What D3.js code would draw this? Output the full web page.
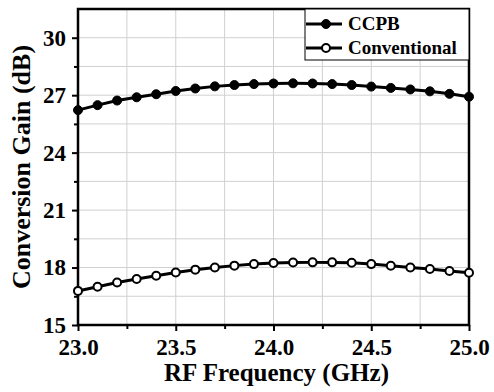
<!DOCTYPE html>
<html>
<head>
<meta charset="utf-8">
<script src="https://cdn.jsdelivr.net/npm/d3@7"></script>
<style>
  body { margin: 0; background: #fff; }
</style>
</head>
<body>
<div id="chart"></div>
<script>
const freq = [23.0, 23.1, 23.2, 23.3, 23.4, 23.5, 23.6, 23.7, 23.8, 23.9, 24.0,
  24.1, 24.2, 24.3, 24.4, 24.5, 24.6, 24.7, 24.8, 24.9, 25.0]
const ccpb = [26.22, 26.48, 26.72, 26.89, 27.05, 27.22, 27.35, 27.46, 27.53, 27.58, 27.61,
  27.62, 27.61, 27.58, 27.53, 27.45, 27.38, 27.3, 27.2, 27.07, 26.92]
const conventional = [16.78, 17.0, 17.22, 17.4, 17.57, 17.74, 17.89, 18.0, 18.1, 18.18, 18.24,
  18.26, 18.27, 18.27, 18.25, 18.18, 18.09, 18.0, 17.92, 17.82, 17.73]
const xTicks = [23.0, 23.5, 24.0, 24.5, 25.0]
const xMinor = [23.25, 23.75, 24.25, 24.75]
const yTicks = [15, 18, 21, 24, 27, 30]
const yMinor = [16.5, 19.5, 22.5, 25.5, 28.5]
const seriesNames = ['CCPB', 'Conventional']

const font = "'Liberation Serif', 'Times New Roman', serif"

const margin = { top: 9, left: 78, right: 25, bottom: 67 }
const width = 494 - margin.left - margin.right
const height = 392 - margin.top - margin.bottom

const svg = d3
  .select('#chart')
  .append('svg')
  .attr('width', 494)
  .attr('height', 392)
  .append('g')
  .attr('transform', 'translate(' + margin.left + ',' + margin.top + ')')

const xScale = d3.scaleLinear().domain([23, 25]).range([0, width])
const yScale = d3.scaleLinear().domain([15, 31.5]).range([height, 0])

// grid
svg
  .selectAll('.vgrid')
  .data(xMinor.concat(xTicks.slice(1, -1)))
  .enter()
  .append('line')
  .attr('x1', d => xScale(d))
  .attr('x2', d => xScale(d))
  .attr('y1', 0)
  .attr('y2', height)
  .attr('stroke', '#d0d0d0')
  .attr('stroke-width', 1)

svg
  .selectAll('.hgrid')
  .data(yMinor.concat(yTicks.slice(1)))
  .enter()
  .append('line')
  .attr('x1', 0)
  .attr('x2', width)
  .attr('y1', d => yScale(d))
  .attr('y2', d => yScale(d))
  .attr('stroke', '#d0d0d0')
  .attr('stroke-width', 1)

// axes
const xAxis = d3.axisBottom(xScale).tickValues(xTicks).tickFormat(d3.format('.1f')).tickSize(6).tickPadding(8)
const xAxisG = svg.append('g').attr('transform', 'translate(0,' + height + ')').call(xAxis)
svg
  .append('g')
  .attr('transform', 'translate(0,' + height + ')')
  .call(d3.axisBottom(xScale).tickValues(xMinor).tickSize(4).tickFormat(''))

const yAxis = d3.axisLeft(yScale).tickValues(yTicks).tickSize(6).tickPadding(6)
const yAxisG = svg.append('g').call(yAxis)
svg
  .append('g')
  .call(d3.axisLeft(yScale).tickValues(yMinor).tickSize(4).tickFormat(''))

svg.selectAll('.tick line').attr('stroke', '#000').attr('stroke-width', 2)
svg.selectAll('.domain').remove()

xAxisG.selectAll('.tick text')
  .attr('fill', '#000')
  .style('font-family', font)
  .style('font-weight', 'bold')
  .style('font-size', '23px')

yAxisG.selectAll('.tick text')
  .attr('fill', '#000')
  .style('font-family', font)
  .style('font-weight', 'bold')
  .style('font-size', '23px')

// frame
svg
  .append('rect')
  .attr('x', 0)
  .attr('y', 0)
  .attr('width', width)
  .attr('height', height)
  .attr('fill', 'none')
  .attr('stroke', '#000')
  .attr('stroke-width', 2.5)

// lines
const line = d3
  .line()
  .x((d, i) => xScale(freq[i]))
  .y(d => yScale(d))

const series = [ccpb, conventional]

series.forEach((values, k) => {
  svg
    .append('path')
    .datum(values)
    .attr('d', line)
    .attr('fill', 'none')
    .attr('stroke', '#000')
    .attr('stroke-width', 3)

  svg
    .selectAll('.pt' + k)
    .data(values)
    .enter()
    .append('circle')
    .attr('cx', (d, i) => xScale(freq[i]))
    .attr('cy', d => yScale(d))
    .attr('r', k === 0 ? 4.5 : 4)
    .attr('fill', k === 0 ? '#000' : '#fff')
    .attr('stroke', '#000')
    .attr('stroke-width', k === 0 ? 1 : 2)
})

// legend
const legend = svg.append('g').attr('transform', 'translate(' + (width - 164) + ',0)')
legend
  .append('rect')
  .attr('width', 164)
  .attr('height', 51)
  .attr('fill', '#fff')
  .attr('stroke', '#000')
  .attr('stroke-width', 1)

seriesNames.forEach((name, k) => {
  const ly = 15 + k * 24
  legend
    .append('line')
    .attr('x1', 1)
    .attr('x2', 37)
    .attr('y1', ly)
    .attr('y2', ly)
    .attr('stroke', '#000')
    .attr('stroke-width', 3)
  legend
    .append('circle')
    .attr('cx', 21)
    .attr('cy', ly)
    .attr('r', k === 0 ? 4.5 : 4)
    .attr('fill', k === 0 ? '#000' : '#fff')
    .attr('stroke', '#000')
    .attr('stroke-width', k === 0 ? 1 : 2)
  legend
    .append('text')
    .attr('x', 43)
    .attr('y', ly + 6)
    .attr('fill', '#000')
    .style('font-family', font)
    .style('font-weight', 'bold')
    .style('font-size', '19px')
    .text(name)
})

// axis titles
svg
  .append('text')
  .attr('x', width / 2 + 3)
  .attr('y', height + 56)
  .attr('text-anchor', 'middle')
  .attr('fill', '#000')
  .style('font-family', font)
  .style('font-weight', 'bold')
  .style('font-size', '25px')
  .text('RF Frequency (GHz)')

svg
  .append('text')
  .attr('transform', 'translate(' + (-48) + ',' + height / 2 + ') rotate(-90)')
  .attr('text-anchor', 'middle')
  .attr('fill', '#000')
  .style('font-family', font)
  .style('font-weight', 'bold')
  .style('font-size', '26px')
  .text('Conversion Gain (dB)')
</script>
</body>
</html>
